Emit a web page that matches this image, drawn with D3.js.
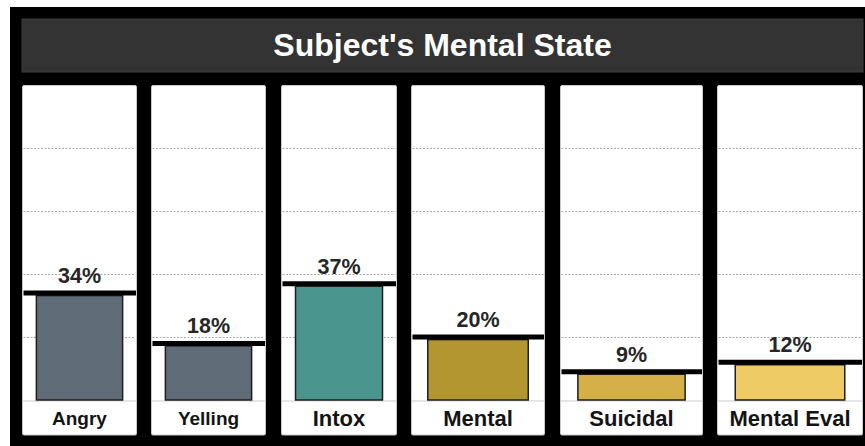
<!DOCTYPE html>
<html>
<head>
<meta charset="utf-8">
<script src="https://cdn.jsdelivr.net/npm/d3@7"></script>
<style>
  html, body { margin: 0; padding: 0; background: #fff; }
  svg { display: block; }
  text { font-family: "Liberation Sans", Arial, Helvetica, sans-serif; }
</style>
</head>
<body>
<svg id="chart" width="865" height="446"></svg>
<script>
// Chart data
const title = "Subject's Mental State";
const categories = ["Angry", "Yelling", "Intox", "Mental", "Suicidal", "Mental Eval"];
const values = [34, 18, 37, 20, 9, 12];           // percent
const valueLabels = ["34%", "18%", "37%", "20%", "9%", "12%"];
const gridTicks = [20, 40, 60, 80];

// Presentation
const barColors = ["#5f6b77", "#5f6b77", "#4a968e", "#b39630", "#d5b049", "#efcb66"];
const panelWidths = [115, 115, 116, 134, 143, 146];
const panelGap = 14.4;
const labelSizes = [19, 19, 22, 22, 22, 22];

const W = 865, H = 446;
const svg = d3.select("#chart");

// dark frame
svg.append("rect").attr("x", 10).attr("y", 7).attr("width", W - 10).attr("height", H - 7).attr("fill", "#000");

// title bar
svg.append("rect").attr("x", 22).attr("y", 19).attr("width", 841).attr("height", 53)
  .attr("fill", "#333").attr("stroke", "#3c3c3c").attr("stroke-width", 1);
svg.append("text").attr("x", 442.5).attr("y", 55.5).attr("text-anchor", "middle")
  .attr("fill", "#fff").attr("font-weight", "bold").attr("font-size", 32).text(title);

// horizontal placement of each panel
const lefts = [];
panelWidths.reduce((acc, w, i) => { lefts.push(acc); return acc + w + panelGap; }, 22);
const xLeft = d3.scaleOrdinal(categories, lefts.map(v => Math.round(v)));
const xWidth = d3.scaleOrdinal(categories, panelWidths);

const y = d3.scaleLinear().domain([0, 100]).range([400, 85.5]);

const panelTop = 85.5, panelBottom = 435;

const data = categories.map((c, i) => ({ c, v: values[i], label: valueLabels[i], color: barColors[i], fs: labelSizes[i] }));

const panels = svg.selectAll("g.panel").data(data).join("g").attr("class", "panel")
  .attr("transform", d => `translate(${xLeft(d.c)},0)`);

// panel background
panels.append("rect")
  .attr("x", 0.5).attr("y", panelTop)
  .attr("width", d => xWidth(d.c) - 1).attr("height", panelBottom - panelTop)
  .attr("rx", 1.5)
  .attr("fill", "#fff").attr("stroke", "#c8c8c8").attr("stroke-width", 1);

// dashed gridlines
panels.each(function (d) {
  d3.select(this).selectAll("line.grid").data(gridTicks).join("line").attr("class", "grid")
    .attr("x1", 1.5).attr("x2", xWidth(d.c) - 1.5)
    .attr("y1", t => Math.round(y(t)) + 0.5).attr("y2", t => Math.round(y(t)) + 0.5)
    .attr("stroke", "#a8a8a8").attr("stroke-width", 1).attr("stroke-dasharray", "2,1.5");
});

// baseline separating the category label
panels.append("line")
  .attr("x1", 1).attr("x2", d => xWidth(d.c) - 1)
  .attr("y1", y(0) + 1).attr("y2", y(0) + 1)
  .attr("stroke", "#dcdcdc").attr("stroke-width", 1.5);

// bars
const lineW = 5;
panels.append("rect")
  .attr("x", d => xWidth(d.c) * 0.125)
  .attr("width", d => xWidth(d.c) * 0.75)
  .attr("y", d => y(d.v) + lineW / 2)
  .attr("height", d => y(0) - y(d.v) - lineW / 2)
  .attr("fill", d => d.color)
  .attr("stroke", "#1e1e1e").attr("stroke-width", 1.5);

// value marker line
panels.append("line")
  .attr("x1", 1.5).attr("x2", d => xWidth(d.c) - 1)
  .attr("y1", d => y(d.v)).attr("y2", d => y(d.v))
  .attr("stroke", "#000").attr("stroke-width", lineW);

// value labels
panels.append("text")
  .attr("x", d => xWidth(d.c) / 2)
  .attr("y", d => y(d.v) - 10)
  .attr("text-anchor", "middle")
  .attr("fill", "#262626").attr("font-weight", "bold").attr("font-size", 21.5)
  .text(d => d.label);

// category labels
panels.append("text")
  .attr("x", d => xWidth(d.c) / 2)
  .attr("y", d => 418 + d.fs * 0.716 / 2)
  .attr("text-anchor", "middle")
  .attr("fill", "#141414").attr("font-weight", "bold")
  .attr("font-size", d => d.fs)
  .text(d => d.c);
</script>
</body>
</html>
